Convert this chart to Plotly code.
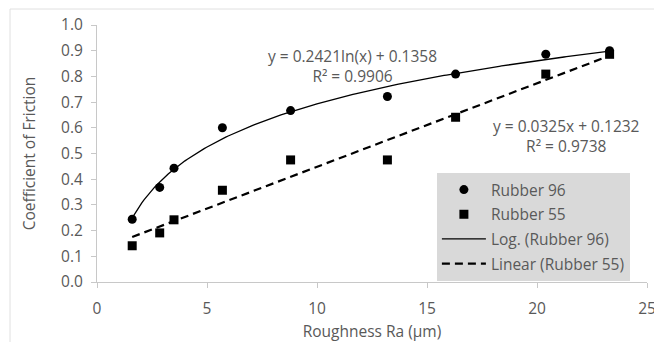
import numpy as np
import plotly.graph_objects as go

# ---- data ----
roughness = [1.6, 2.85, 3.5, 5.7, 8.8, 13.2, 16.3, 20.4, 23.3]
rubber96 = [0.244, 0.368, 0.443, 0.600, 0.667, 0.722, 0.809, 0.886, 0.900]
rubber55 = [0.141, 0.191, 0.242, 0.357, 0.475, 0.475, 0.641, 0.809, 0.886]

# trendline coefficients as printed on the chart
log_a, log_b = 0.2421, 0.1358
lin_a, lin_b = 0.0325, 0.1232
log_label = ["y = 0.2421ln(x) + 0.1358", "R² = 0.9906"]
lin_label = ["y = 0.0325x + 0.1232", "R² = 0.9738"]

x_ticks = [0, 5, 10, 15, 20, 25]
y_ticks = [round(0.1 * i, 1) for i in range(11)]

FONT = "Open Sans"
TXT = "#595959"
FS = 15.5

xs = np.linspace(min(roughness), max(roughness), 200)
log_fit = log_a * np.log(xs) + log_b
lin_fit = lin_a * xs + lin_b

fig = go.Figure()
fig.add_trace(go.Scatter(x=roughness, y=rubber96, mode="markers", name="Rubber 96",
                         legendgroup="a", marker=dict(symbol="circle", size=9, color="black")))
fig.add_trace(go.Scatter(x=roughness, y=rubber55, mode="markers", name="Rubber 55",
                         legendgroup="b", marker=dict(symbol="square", size=9, color="black")))
fig.add_trace(go.Scatter(x=xs, y=log_fit, mode="lines", name="Log. (Rubber 96)",
                         legendgroup="c", line=dict(color="black", width=1.3)))
fig.add_trace(go.Scatter(x=xs, y=lin_fit, mode="lines", name="Linear (Rubber 55)",
                         legendgroup="d", line=dict(color="black", width=2.2, dash="8px,5px")))

fig.add_annotation(x=11.6, y=0.841, xref="x", yref="y",
                   text=log_label[0] + "<br>" + log_label[1], showarrow=False,
                   font=dict(family=FONT, size=FS, color=TXT), align="center")
fig.add_annotation(x=21.33, y=0.569, xref="x", yref="y",
                   text=lin_label[0] + "<br>" + lin_label[1], showarrow=False,
                   font=dict(family=FONT, size=FS, color=TXT), align="center")

# outer chart border (top and left edges visible); page body adds an 8px offset
PW, PH = 550, 257
bx = (2 - 89) / PW
by = (274 - 1) / PH
fig.add_shape(type="line", xref="paper", yref="paper", x0=bx, x1=1.2, y0=by, y1=by,
              line=dict(color="#e0e0e0", width=1))
fig.add_shape(type="line", xref="paper", yref="paper", x0=bx, x1=bx, y0=by, y1=-0.4,
              line=dict(color="#e0e0e0", width=1))

axis_common = dict(showgrid=False, zeroline=False, showline=True, linecolor="#c8c8c8",
                   linewidth=1, ticks="outside", ticklen=5, tickcolor="#c8c8c8",
                   automargin=False,
                   tickfont=dict(family=FONT, size=FS, color=TXT))

fig.update_xaxes(range=[0, 25], tickvals=x_ticks, ticktext=[str(v) for v in x_ticks],
                 ticklabelstandoff=7,
                 title=dict(text="Roughness Ra (µm)", font=dict(family=FONT, size=FS, color=TXT),
                            standoff=12),
                 **axis_common)
fig.update_yaxes(range=[0, 1.0], tickvals=y_ticks, ticktext=[f"{v:.1f}" for v in y_ticks],
                 ticklabelstandoff=5,
                 title=dict(text="Coefficient of Friction", font=dict(family=FONT, size=FS, color=TXT),
                            standoff=21),
                 **axis_common)

fig.update_layout(
    width=654, height=334,
    margin=dict(l=89, r=15, t=17, b=60),
    paper_bgcolor="white", plot_bgcolor="white",
    showlegend=True,
    legend=dict(x=0.618, y=0.424, xanchor="left", yanchor="top",
                bgcolor="#d9d9d9", font=dict(family=FONT, size=FS, color=TXT),
                itemwidth=44, tracegroupgap=1.5),
)

fig.write_html("out.html")
